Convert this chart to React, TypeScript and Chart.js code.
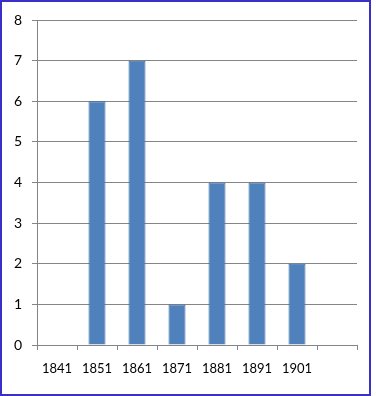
import React, { useEffect, useRef } from "react";
import { Chart, registerables } from "chart.js";

Chart.register(...registerables);

const categories: string[] = ["1841", "1851", "1861", "1871", "1881", "1891", "1901", ""];
const values: number[] = [0, 6, 7, 1, 4, 4, 2, 0];
const yTicks: number[] = [0, 1, 2, 3, 4, 5, 6, 7, 8];

export default function App() {
  const ref = useRef<HTMLCanvasElement | null>(null);

  useEffect(() => {
    document.body.style.margin = "0";
    const canvas = ref.current;
    if (!canvas) return;
    const chart = new Chart(canvas, {
      type: "bar",
      data: {
        labels: categories,
        datasets: [
          {
            data: values,
            backgroundColor: "#4f81bd",
            borderColor: "#3c6a9e",
            borderWidth: 1,
            barPercentage: 0.85,
            categoryPercentage: 0.5,
          },
        ],
      },
      options: {
        animation: false,
        responsive: false,
        maintainAspectRatio: false,
        layout: { padding: { left: 0, top: 20, right: 19, bottom: 0 } },
        plugins: { legend: { display: false }, tooltip: { enabled: false } },
        scales: {
          x: {
            grid: {
              offset: true,
              drawOnChartArea: false,
              drawTicks: true,
              tickLength: 5,
              color: "#858585",
            },
            border: { color: "#858585", width: 1 },
            ticks: {
              color: "#000",
              font: { family: "Lato", size: 13 },
              padding: 11,
              maxRotation: 0,
              autoSkip: false,
            },
            afterFit: (s: any) => {
              s.height = 51;
            },
          },
          y: {
            min: 0,
            max: 8,
            afterBuildTicks: (s: any) => {
              s.ticks = yTicks.map((v) => ({ value: v }));
            },
            grid: { color: "#858585", tickLength: 5 },
            border: { color: "#858585", width: 1 },
            ticks: {
              color: "#000",
              font: { family: "Lato", size: 14 },
              padding: 10,
            },
            afterFit: (s: any) => {
              s.width = 37;
            },
          },
        },
      },
    });
    return () => chart.destroy();
  }, []);

  return (
    <div style={{ position: "relative", width: 376, height: 396, background: "#fff" }}>
      <canvas ref={ref} width={376} height={396} style={{ position: "absolute", left: 0, top: 0 }} />
      <div
        style={{
          position: "absolute",
          left: 0,
          top: 0,
          width: 371,
          height: 396,
          boxSizing: "border-box",
          border: "2px solid #3a30c8",
          pointerEvents: "none",
        }}
      />
    </div>
  );
}
